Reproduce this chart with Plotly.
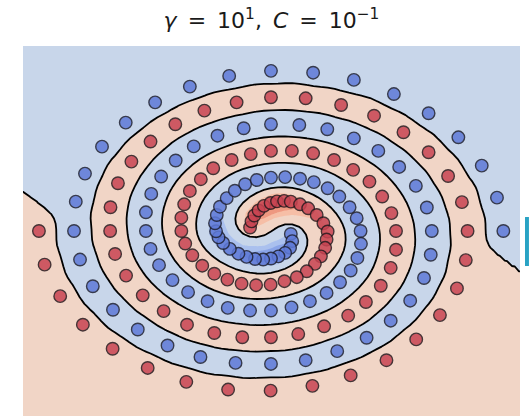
import numpy as np
import plotly.graph_objects as go

# Two interleaved spirals (class +1 = red, class -1 = blue), inner end first.
red_x = [-0.59, -0.55, -0.47, -0.35, -0.20, -0.01, 0.17, 0.37, 0.56, 0.82, 1.05, 1.29, 1.48, 1.60,
         1.57, 1.53, 1.41, 1.24, 1.01, 0.73, 0.38, -0.01, -0.42, -0.83, -1.23, -1.60, -1.94, -2.22,
         -2.42, -2.53, -2.53, -2.45, -2.29, -1.98, -1.63, -1.11, -0.57, 0.00, 0.59, 1.19, 1.78, 2.32,
         2.78, 3.14, 3.40, 3.53, 3.53, 3.38, 3.10, 2.68, 2.18, 1.50, 0.77, 0.00, -0.81, -1.60, -2.37,
         -3.03, -3.62, -4.09, -4.40, -4.54, -4.53, -4.32, -3.94, -3.40, -2.70, -1.88, -0.97, 0.00, 0.98,
         1.98, 2.91, 3.74, 4.45, 5.00, 5.39, 5.55, 5.50, 5.25, 4.77, 4.10, 3.26, 2.25, 1.17, -0.01,
         -1.21, -2.39, -3.48, -4.47, -5.31, -5.95, -6.39, -6.55]
red_y = [0.12, 0.35, 0.57, 0.76, 0.93, 1.04, 1.10, 1.12, 1.09, 0.99, 0.84, 0.59, 0.28, -0.03,
         -0.33, -0.64, -0.96, -1.24, -1.52, -1.74, -1.89, -2.02, -2.04, -1.98, -1.83, -1.61, -1.31, -0.92,
         -0.48, -0.01, 0.49, 0.99, 1.49, 1.93, 2.34, 2.65, 2.87, 2.99, 2.99, 2.90, 2.65, 2.28,
         1.84, 1.28, 0.66, -0.01, -0.71, -1.39, -2.06, -2.67, -3.18, -3.58, -3.87, -3.99, -3.99, -3.83, -3.52,
         -3.01, -2.42, -1.68, -0.87, -0.01, 0.88, 1.78, 2.59, 3.34, 3.99, 4.50, 4.81, 5.00, 4.96,
         4.71, 4.31, 3.69, 2.94, 2.05, 1.07, -0.01, -1.10, -2.16, -3.16, -4.07, -4.85, -5.42, -5.81, -5.99,
         -5.95, -5.66, -5.14, -4.42, -3.52, -2.45, -1.27, -0.01]

blue_x = [0.56, 0.60, 0.54, 0.40, 0.21, 0.00, -0.22, -0.45, -0.69, -0.92, -1.16, -1.35, -1.48, -1.55,
          -1.58, -1.53, -1.44, -1.25, -1.02, -0.73, -0.40, 0.00, 0.40, 0.82, 1.21, 1.60, 1.93, 2.22,
          2.42, 2.53, 2.54, 2.44, 2.25, 1.95, 1.57, 1.10, 0.58, 0.00, -0.59, -1.22, -1.79, -2.34,
          -2.78, -3.16, -3.40, -3.53, -3.53, -3.38, -3.10, -2.69, -2.18, -1.51, -0.77, 0.00, 0.80, 1.59,
          2.34, 3.03, 3.62, 4.09, 4.40, 4.54, 4.51, 4.32, 3.93, 3.38, 2.70, 1.87, 0.98, 0.00, -1.00,
          -1.99, -2.92, -3.76, -4.46, -5.03, -5.39, -5.56, -5.51, -5.25, -4.77, -4.10, -3.27, -2.29, -1.18,
          0.00, 1.19, 2.34, 3.47, 4.45, 5.29, 5.95, 6.38, 6.56]
blue_y = [-0.12, -0.39, -0.64, -0.83, -0.96, -1.04, -1.08, -1.06, -0.98, -0.86, -0.68, -0.46, -0.25, -0.02,
          0.28, 0.59, 0.90, 1.22, 1.50, 1.74, 1.90, 1.99, 2.01, 1.95, 1.82, 1.59, 1.28, 0.88,
          0.47, -0.01, -0.49, -1.02, -1.49, -1.93, -2.33, -2.64, -2.87, -2.99, -2.99, -2.89, -2.64, -2.30,
          -1.85, -1.29, -0.68, -0.01, 0.69, 1.38, 2.03, 2.63, 3.16, 3.56, 3.84, 3.99, 3.96, 3.80,
          3.46, 2.99, 2.39, 1.68, 0.87, -0.01, -0.90, -1.77, -2.62, -3.37, -4.01, -4.51, -4.85, -4.99, -4.95,
          -4.73, -4.30, -3.70, -2.96, -2.08, -1.08, -0.01, 1.09, 2.14, 3.15, 4.05, 4.81, 5.40, 5.80,
          5.99, 5.92, 5.65, 5.12, 4.40, 3.50, 2.44, 1.24, -0.01]

x_range = [-7.0, 7.03]
y_range = [-6.94, 6.92]

# RBF kernel expansion (all points weighted equally) evaluated on a coarse mesh
rbf_gamma = 3.0
mesh_step = 0.2
first_level = 2.8     # |decision| where the first darker shade begins
level_step = 0.9      # spacing of the darker shades beyond it

gx = np.arange(x_range[0] - mesh_step, x_range[1] + 2 * mesh_step, mesh_step)
gy = np.arange(y_range[0] - mesh_step, y_range[1] + 2 * mesh_step, mesh_step)
GX, GY = np.meshgrid(gx, gy)


def kernel_sum(px, py):
    px = np.asarray(px)[:, None, None]
    py = np.asarray(py)[:, None, None]
    return np.exp(-rbf_gamma * ((GX - px) ** 2 + (GY - py) ** 2)).sum(axis=0)


decision = kernel_sum(red_x, red_y) - kernel_sum(blue_x, blue_y)

# monotone rescale so the shading levels fall on integers (zero stays zero)
mag = np.abs(decision)
level_index = np.sign(decision) * np.where(
    mag < first_level, mag / first_level, 1 + (mag - first_level) / level_step)

band_colors = [
    "rgb(75,95,200)", "rgb(105,132,220)", "rgb(138,164,232)", "rgb(170,192,238)",
    "rgb(200,214,234)",
    "rgb(241,213,198)",
    "rgb(246,190,166)", "rgb(238,152,128)", "rgb(222,108,95)", "rgb(190,50,58)",
]
n_bands = len(band_colors)
band_scale = [[i / (n_bands - 1), c] for i, c in enumerate(band_colors)]

fig = go.Figure()
fig.add_trace(go.Contour(
    x=gx, y=gy, z=level_index, autocontour=False,
    contours=dict(start=-4, end=4, size=1, coloring="fill"),
    colorscale=band_scale, line=dict(width=0, smoothing=0),
    showscale=False, hoverinfo="skip",
))
fig.add_trace(go.Contour(
    x=gx, y=gy, z=level_index, autocontour=False,
    contours=dict(start=0, end=0, size=1, coloring="none"),
    line=dict(color="black", width=1.8, smoothing=0),
    showscale=False, hoverinfo="skip",
))
fig.add_trace(go.Scatter(
    x=red_x, y=red_y, mode="markers",
    marker=dict(size=12.5, color="rgb(200,68,82)", opacity=0.85,
                line=dict(color="rgb(40,25,30)", width=1.4)),
    hoverinfo="skip",
))
fig.add_trace(go.Scatter(
    x=blue_x, y=blue_y, mode="markers",
    marker=dict(size=12.5, color="rgb(95,122,216)", opacity=0.85,
                line=dict(color="rgb(30,32,50)", width=1.4)),
    hoverinfo="skip",
))

fig.update_xaxes(range=x_range, showgrid=False, zeroline=False, showticklabels=False,
                 ticks="", showline=False)
fig.update_yaxes(range=y_range, showgrid=False, zeroline=False, showticklabels=False,
                 ticks="", showline=False)

fig.update_layout(
    width=529, height=419,
    margin=dict(l=23, r=9, t=46, b=3),
    paper_bgcolor="white", plot_bgcolor="white",
    showlegend=False,
    title=dict(
        text="<i>γ</i>\u2002=\u200210<sup>1</sup>,\u2002<i>C</i>\u2002=\u200210<sup>−1</sup>",
        x=0.5, xref="paper", xanchor="center",
        y=0.952, yref="container", yanchor="middle",
        font=dict(family="DejaVu Sans", size=22, color="#1a1a1a"),
    ),
    shapes=[dict(type="rect", xref="paper", yref="paper",
                 x0=1.0101, x1=1.018, y0=0.4054, y1=0.5378,
                 fillcolor="#2aa3c4", line=dict(width=0), layer="above")],
)

fig.write_html("out.html")
